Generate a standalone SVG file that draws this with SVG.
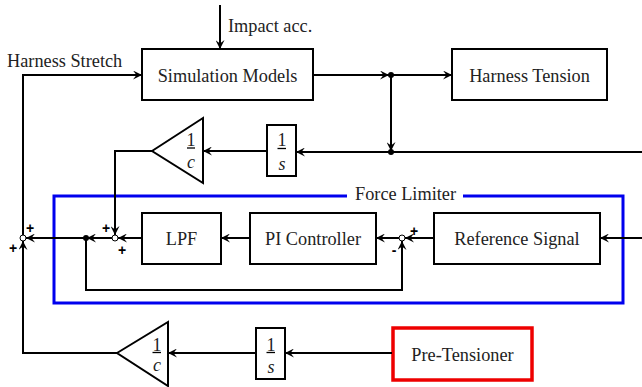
<svg xmlns="http://www.w3.org/2000/svg" width="642" height="387" viewBox="0 0 642 387">
  <style>
    .box { fill: #fff; stroke: #000; stroke-width: 2; }
    .lbl { font-size: 18.3px; fill: #222; }
    .frac { font-size: 18px; fill: #222; text-anchor: middle; }
    .sign { font-family: 'Liberation Sans', sans-serif; font-size: 14px; font-weight: bold; fill: #000; text-anchor: middle; }
    .wire { fill: none; stroke: #000; stroke-width: 2; }
    .fl { stroke: #000; stroke-width: 1.3; }
  </style>
  <defs>
    <marker id="arr" markerUnits="userSpaceOnUse" markerWidth="10" markerHeight="9" refX="9" refY="4.5" orient="auto">
      <path d="M0,0 L9,4.5 L0,9 L3.5,4.5 z" fill="#000"/>
    </marker>
  </defs>

  <g font-family="'Liberation Serif', serif">
  <!-- force limiter frame -->
  <g id="force-limiter">
    <path d="M347,196 H54 V303 H623 V196 H463" fill="none" stroke="#0000ee" stroke-width="3"/>
    <text class="lbl" x="355" y="200">Force Limiter</text>
  </g>

  <g id="simulation-models">
    <rect class="box" x="142" y="49" width="171" height="51"/>
    <text class="lbl" x="227.5" y="82" text-anchor="middle">Simulation Models</text>
  </g>
  <g id="harness-tension">
    <rect class="box" x="452" y="49" width="155" height="51"/>
    <text class="lbl" x="529.5" y="82" text-anchor="middle">Harness Tension</text>
  </g>
  <g id="gain-top">
    <polygon class="box" points="152,151 203,118 203,183"/>
    <text class="frac" x="191" y="145.5">1</text>
    <line class="fl" x1="187" y1="148" x2="195" y2="148"/>
    <text class="frac" x="191" y="168" font-style="italic">c</text>
  </g>
  <g id="integrator-top">
    <rect class="box" x="267" y="125" width="29" height="51"/>
    <text class="frac" x="282" y="146">1</text>
    <line class="fl" x1="277.5" y1="148.5" x2="286" y2="148.5"/>
    <text class="frac" x="282" y="170" font-style="italic">s</text>
  </g>
  <g id="lpf">
    <rect class="box" x="142" y="213" width="79" height="51"/>
    <text class="lbl" x="181.5" y="245" text-anchor="middle">LPF</text>
  </g>
  <g id="pi-controller">
    <rect class="box" x="250" y="213" width="126" height="51"/>
    <text class="lbl" x="313" y="245" text-anchor="middle">PI Controller</text>
  </g>
  <g id="reference-signal">
    <rect class="box" x="434" y="213" width="166" height="51"/>
    <text class="lbl" x="517" y="245" text-anchor="middle">Reference Signal</text>
  </g>
  <g id="gain-bottom">
    <polygon class="box" points="117,353 168,322 168,386"/>
    <text class="frac" x="157" y="350.5">1</text>
    <line class="fl" x1="152.5" y1="352.5" x2="161" y2="352.5"/>
    <text class="frac" x="157" y="371" font-style="italic">c</text>
  </g>
  <g id="integrator-bottom">
    <rect class="box" x="256" y="328" width="29" height="51"/>
    <text class="frac" x="271" y="350.5">1</text>
    <line class="fl" x1="266.5" y1="352.5" x2="275" y2="352.5"/>
    <text class="frac" x="271" y="373" font-style="italic">s</text>
  </g>
  <g id="pre-tensioner">
    <rect x="393" y="328" width="139" height="52" fill="#fff" stroke="#ee0000" stroke-width="3.5"/>
    <text class="lbl" x="462.5" y="361" text-anchor="middle">Pre-Tensioner</text>
  </g>

  <!-- free labels -->
  <text class="lbl" x="228" y="32">Impact acc.</text>
  <text class="lbl" x="7" y="67">Harness Stretch</text>
  </g>

  <g id="connectors">
    <path class="wire" d="M220,5 V49" marker-end="url(#arr)"/>
    <path class="wire" d="M23,235 V75 H142" marker-end="url(#arr)"/>
    <path class="wire" d="M313,75 H389" stroke-width="2.5" marker-end="url(#arr)"/>
    <path class="wire" d="M391,75 H452" marker-end="url(#arr)"/>
    <path class="wire" d="M391,75 V151" marker-end="url(#arr)"/>
    <path class="wire" d="M642,152 H296" marker-end="url(#arr)"/>
    <path class="wire" d="M267,151 H203" marker-end="url(#arr)"/>
    <path class="wire" d="M152,151 H115 V235" marker-end="url(#arr)"/>
    <path class="wire" d="M642,238 H600" marker-end="url(#arr)"/>
    <path class="wire" d="M434,238 H405" marker-end="url(#arr)"/>
    <path class="wire" d="M399,238 H376" marker-end="url(#arr)"/>
    <path class="wire" d="M250,238 H221" marker-end="url(#arr)"/>
    <path class="wire" d="M142,238 H118" marker-end="url(#arr)"/>
    <path class="wire" d="M112,238 H87" marker-end="url(#arr)"/>
    <path class="wire" d="M86,238 H26" marker-end="url(#arr)"/>
    <path class="wire" d="M86,238 V290 H402 V241" marker-end="url(#arr)"/>
    <path class="wire" d="M392,353 H285" marker-end="url(#arr)"/>
    <path class="wire" d="M256,353 H168" marker-end="url(#arr)"/>
    <path class="wire" d="M117,353 H23 V241" marker-end="url(#arr)"/>

    <!-- branch points -->
    <circle cx="391" cy="75" r="3" fill="#000"/>
    <circle cx="391" cy="152" r="3" fill="#000"/>
    <circle cx="86" cy="238" r="3" fill="#000"/>

    <!-- summing junctions -->
    <circle cx="23" cy="238" r="3" fill="#fff" stroke="#000" stroke-width="1"/>
    <circle cx="115" cy="238" r="3" fill="#fff" stroke="#000" stroke-width="1"/>
    <circle cx="402" cy="238" r="3" fill="#fff" stroke="#000" stroke-width="1"/>

    <text class="sign" x="30" y="233">+</text>
    <text class="sign" x="13" y="253">+</text>
    <text class="sign" x="106" y="233">+</text>
    <text class="sign" x="122" y="255">+</text>
    <text class="sign" x="414" y="236">+</text>
    <text class="sign" x="394" y="255">-</text>
  </g>
</svg>
